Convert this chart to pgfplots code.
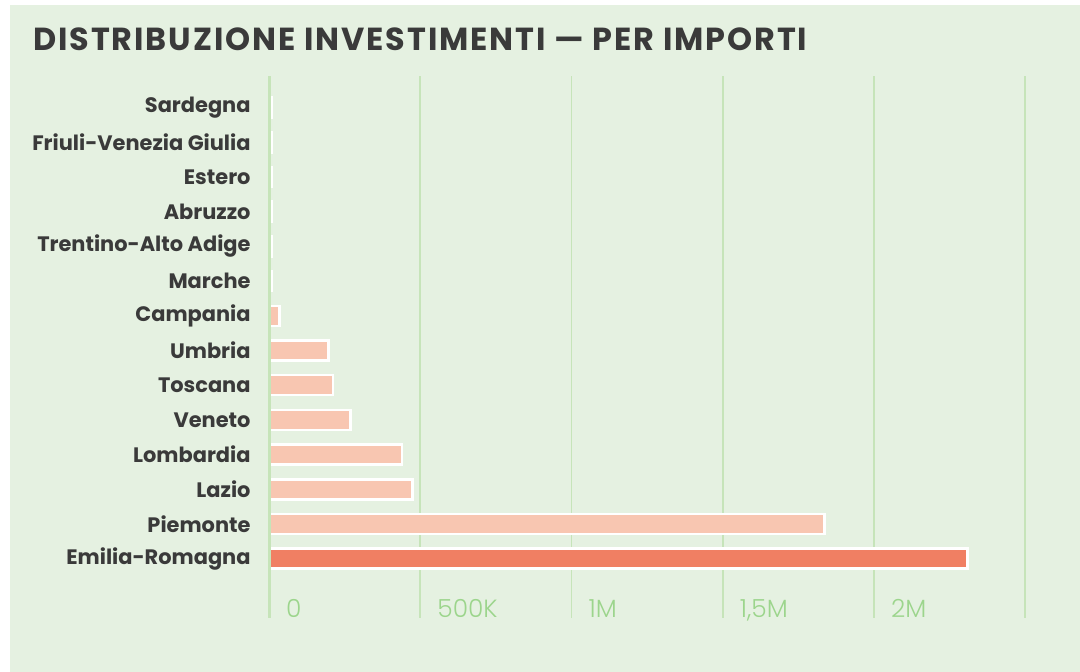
\documentclass[border=0pt]{standalone}
\usepackage{fontspec}
\setmainfont{Poppins}
\newfontfamily\lightfont{Poppins Light}
\newfontfamily\titlefont{Poppins}[LetterSpace=6]
\usepackage{pgfplots}
\pgfplotsset{compat=1.18}

\definecolor{panel}{HTML}{E5F1E1}
\definecolor{gridgreen}{HTML}{C6E4B9}
\definecolor{ticktext}{HTML}{9CD58C}
\definecolor{labeltext}{HTML}{3A3A3A}
\definecolor{barlight}{HTML}{F8C6B1}
\definecolor{barstrong}{HTML}{F07F63}

\begin{document}
\begin{tikzpicture}
    % sfondo
    \fill[white] (0,0) rectangle (1080bp,672bp);
    \fill[panel] (10bp,0) rectangle (1080bp,667bp);

    \node[anchor=base west, inner sep=0pt, text=labeltext,
        font=\titlefont\fontsize{32}{32}\selectfont\bfseries]
        at (33bp,621.3bp) {DISTRIBUZIONE INVESTIMENTI — PER IMPORTI};

    \begin{axis}[
        at={(269bp,54bp)}, anchor=south west,
        width=756bp, height=542bp, scale only axis,
        xmin=0, xmax=2500000,
        ymin=-1.709, ymax=13.911,
        axis line style={draw=none},
        tick style={draw=none},
        xmajorgrids,
        grid style={gridgreen, line width=1.8bp},
        xtick={0,500000,1000000,1500000,2000000,2500000},
        xticklabels={0,500K,1M,{1,5M},2M,},
        xticklabel style={anchor=base west, inner sep=0pt, xshift=17bp,
            text=ticktext, font=\lightfont\fontsize{25}{25}\selectfont},
        ytick={0,1,...,13},
        yticklabels={Emilia-Romagna,Piemonte,Lazio,Lombardia,Veneto,Toscana,Umbria,Campania,Marche,Trentino-Alto Adige,Abruzzo,Estero,Friuli-Venezia Giulia,Sardegna},
        yticklabel style={anchor=east, inner sep=0pt, xshift=-14bp,
            text=labeltext, font=\fontsize{21}{21}\selectfont\bfseries},
        xbar, bar width=20bp, bar shift=0pt,
        scaled x ticks=false,
    ]
        \addplot[fill=barlight, draw=white, line width=2.5bp] coordinates {
            (1837000,1) (475000,2) (440000,3) (269000,4) (211000,5)
            (196000,6) (34700,7) (8000,8) (8000,9) (8000,10)
            (8000,11) (8000,12) (8000,13)
        };
        \addplot[fill=barstrong, draw=white, line width=2.5bp] coordinates {
            (2309000,0)
        };
        % linea dello zero
        \draw[gridgreen, line width=3.5bp] (axis cs:0,-1.709) -- (axis cs:0,13.911);
    \end{axis}
\end{tikzpicture}
\end{document}
